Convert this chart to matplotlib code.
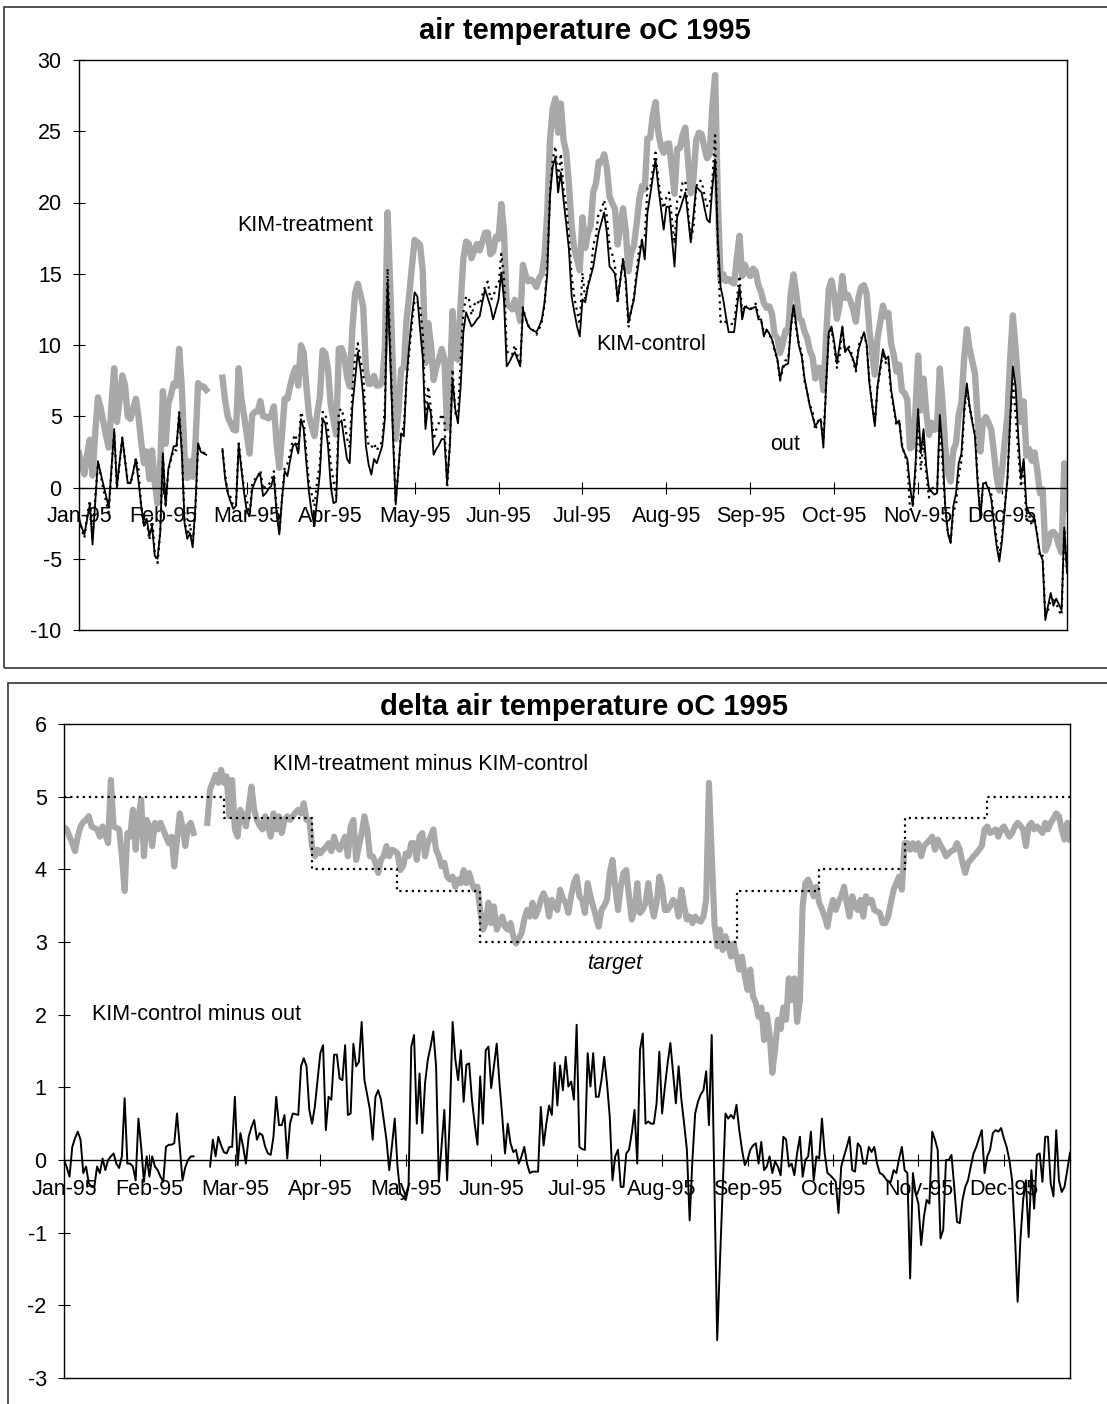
import numpy as np
import matplotlib
matplotlib.use("Agg")
import matplotlib.pyplot as plt
from matplotlib.patches import Rectangle

nan = np.nan

# x axis is the day index (one point per day, 1995)
month_labels = ["Jan-95", "Feb-95", "Mar-95", "Apr-95", "May-95", "Jun-95",
                "Jul-95", "Aug-95", "Sep-95", "Oct-95", "Nov-95", "Dec-95"]
month_days = [0, 31, 62, 93, 124, 155, 186, 217, 248, 279, 310, 341]

# outside air temperature (oC)
out_temp = [
    -2.2, -2.8, -3.3, -2.2, -1.2, -4.0, -1.0, 1.85, 1.0, 0.2,
    -0.6, -1.4, 1.4, 4.1, 0.0, 1.8, 3.5, 1.9, 0.3, 0.3,
    1.1, 2.0, 0.4, -1.3, -2.7, -2.2, -3.4, -2.7, -4.8, -5.0,
    -3.2, 2.4, -1.3, 1.3, 2.1, 2.9, 2.9, 5.1, 2.4, -2.5,
    -3.6, -3.2, -4.2, -1.3, 3.1, 2.5, 2.4, 2.3, nan, nan,
    nan, nan, nan, 2.7, 0.6, -0.4, -1.0, -1.5, -1.3, 3.0,
    1.3, -0.4, -1.7, -2.0, -0.1, 0.4, 0.8, 0.9, -0.6, -0.4,
    -0.1, 0.1, 0.8, -1.8, -3.3, -0.8, 1.15, 0.8, 1.9, 2.9,
    3.1, 2.4, 4.8, 4.1, 1.7, -0.4, -1.8, -2.7, -0.8, 1.0,
    4.8, 4.5, 2.9, 0.1, -1.1, -1.0, 4.5, 4.7, 3.3, 2.0,
    1.7, 5.7, 7.6, 9.5, 8.3, 6.4, 2.9, 1.6, 0.9, 2.0,
    1.7, 2.3, 2.9, 4.8, 14.4, 9.0, 3.5, -1.2, 1.3, 3.8,
    3.6, 7.6, 10.0, 12.0, 13.7, 13.4, 11.1, 9.1, 4.1, 5.9,
    5.2, 2.3, 2.7, 3.0, 3.4, 3.4, 0.3, 2.9, 7.6, 5.5,
    4.5, 7.1, 10.9, 12.3, 11.8, 11.3, 11.5, 11.8, 12.0, 13.0,
    13.9, 13.3, 12.7, 11.8, 12.5, 13.2, 15.1, 13.2, 8.5, 8.8,
    9.2, 9.5, 9.0, 8.5, 12.5, 11.9, 11.3, 11.1, 11.0, 10.9,
    11.3, 11.8, 13.0, 15.0, 20.5, 22.5, 23.2, 20.7, 22.1, 20.2,
    18.5, 16.7, 13.4, 12.3, 11.3, 10.6, 13.2, 13.0, 14.1, 14.8,
    15.5, 16.7, 17.9, 18.6, 19.3, 17.9, 15.5, 15.3, 15.0, 13.2,
    14.6, 16.0, 14.6, 11.6, 12.4, 13.2, 14.8, 16.1, 17.4, 16.0,
    19.3, 20.5, 21.8, 23.0, 21.1, 19.6, 18.1, 19.7, 19.7, 17.6,
    15.5, 19.0, 19.5, 20.1, 20.7, 19.0, 17.2, 19.1, 21.1, 20.9,
    20.7, 19.7, 18.8, 18.6, 21.1, 23.0, 17.4, 14.1, 13.2, 12.0,
    10.9, 10.9, 10.9, 12.5, 14.1, 11.8, 12.7, 12.6, 12.5, 12.6,
    12.7, 11.8, 11.8, 10.6, 11.1, 10.8, 10.4, 9.7, 9.0, 7.6,
    8.5, 8.6, 8.7, 11.3, 12.8, 11.3, 9.9, 9.2, 7.7, 6.7,
    5.7, 5.0, 4.3, 4.6, 4.8, 2.8, 7.1, 10.9, 11.3, 10.2,
    8.7, 10.0, 11.3, 9.5, 9.8, 9.4, 9.0, 8.3, 9.7, 10.3,
    10.9, 10.0, 7.3, 5.8, 4.3, 7.1, 8.4, 9.7, 9.0, 9.2,
    6.9, 5.7, 4.5, 4.7, 2.9, 2.4, 2.0, 0.1, -1.3, 1.5,
    5.5, 2.4, 4.1, 1.5, -0.1, -0.3, -0.5, -0.4, 5.1, 2.7,
    -1.3, -3.2, -3.9, -1.3, -0.4, 1.7, 2.4, 5.5, 7.3, 5.7,
    4.6, 3.6, 0.3, -2.2, 0.3, 0.3, -0.1, -0.8, -2.5, -4.1,
    -5.2, -3.7, -1.5, 0.6, 4.8, 8.5, 7.1, 3.6, 0.6, 2.0,
    -1.3, -1.8, -2.0, -2.2, -3.4, -4.6, -5.1, -9.3, -8.3, -7.4,
    -8.3, -7.8, -8.2, -8.6, -2.8, -6.0,
]

# KIM-control minus out (black line)
ctl_minus_out = [
    0.0, -0.1, -0.23, 0.18, 0.3, 0.39, 0.28, -0.18, -0.09, -0.32,
    -0.37, -0.37, -0.09, -0.18, 0.02, -0.14, 0.0, 0.05, 0.09, -0.05,
    -0.11, 0.05, 0.85, -0.05, -0.05, -0.09, -0.28, 0.57, 0.18, -0.3,
    0.05, -0.23, 0.05, -0.09, -0.14, -0.23, -0.3, 0.18, 0.21, 0.21,
    0.23, 0.64, 0.18, -0.28, -0.1, 0.0, 0.05, 0.05, nan, nan,
    nan, nan, nan, -0.09, 0.28, 0.05, 0.32, 0.2, 0.11, 0.09,
    0.18, 0.18, 0.87, -0.07, 0.37, 0.18, -0.05, 0.32, 0.45, 0.55,
    0.28, 0.37, 0.34, 0.18, 0.09, 0.07, 0.32, 0.87, 0.48, 0.48,
    0.62, 0.02, 0.5, 0.64, 0.63, 0.62, 1.29, 1.4, 1.29, 0.69,
    0.5, 0.73, 1.1, 1.47, 1.58, 0.41, 0.87, 0.83, 1.45, 1.45,
    1.12, 1.1, 1.58, 0.62, 0.64, 1.6, 1.29, 1.35, 1.9, 1.1,
    0.9, 0.69, 0.28, 0.87, 0.96, 0.83, 0.55, 0.28, -0.14, 0.2,
    0.57, -0.09, -0.46, -0.5, -0.55, -0.37, 1.56, 1.72, 0.5, 1.19,
    0.37, 1.06, 1.38, 1.56, 1.77, 1.29, -0.3, 0.2, 0.69, -0.28,
    0.6, 1.9, 1.38, 1.1, 1.51, 0.8, 1.31, 1.33, 0.83, 0.5,
    0.21, 1.15, 0.5, 1.51, 1.56, 0.99, 1.3, 1.6, 1.06, 0.6,
    0.09, 0.5, 0.23, 0.11, 0.14, -0.05, 0.05, 0.18, -0.05, -0.18,
    -0.16, -0.16, -0.16, 0.73, 0.2, 0.5, 0.75, 0.62, 1.34, 0.75,
    1.3, 0.96, 1.42, 1.01, 1.08, 0.83, 1.86, 0.18, 0.15, 0.14,
    1.47, 1.01, 1.47, 0.87, 0.87, 1.1, 1.42, 1.06, 0.6, -0.28,
    0.05, 0.14, -0.37, -0.37, 0.09, 0.14, 0.37, 0.69, -0.05, 1.52,
    1.74, 0.5, 0.53, 0.5, 0.5, 0.78, 1.49, 0.64, 1.0, 1.33,
    1.61, 1.2, 0.78, 1.29, 0.83, 0.5, 0.14, -0.83, 0.0, 0.64,
    0.8, 0.9, 0.96, 1.22, 0.48, 1.72, -0.38, -2.48, -1.4, -0.4,
    0.64, 0.57, 0.62, 0.57, 0.76, 0.41, 0.14, -0.07, 0.0, 0.14,
    0.2, 0.23, -0.05, 0.25, -0.14, -0.09, 0.05, -0.18, -0.02, -0.09,
    -0.21, 0.32, 0.28, -0.09, -0.05, -0.21, 0.1, 0.32, -0.23, 0.0,
    0.05, 0.39, -0.28, 0.05, 0.02, 0.57, 0.09, -0.18, -0.21, -0.25,
    -0.3, -0.73, -0.09, 0.05, 0.18, 0.32, -0.14, -0.16, 0.23, 0.18,
    -0.05, -0.05, 0.18, 0.11, 0.18, -0.05, -0.18, -0.2, -0.25, -0.3,
    -0.3, -0.14, -0.18, 0.02, 0.18, -0.14, -0.18, -1.63, -0.18, -0.46,
    -0.6, -1.17, -0.78, -0.55, -0.6, 0.39, 0.28, 0.14, -1.08, -0.96,
    0.0, 0.0, 0.07, -0.37, -0.85, -0.87, -0.55, -0.37, -0.28, -0.09,
    0.09, 0.18, 0.3, 0.41, -0.18, 0.05, 0.14, 0.37, 0.41, 0.39,
    0.44, 0.3, 0.18, 0.0, -0.28, -1.01, -1.95, -1.1, -0.55, -0.28,
    -1.06, -0.14, -0.67, 0.07, 0.09, -0.3, 0.32, 0.32, -0.32, -0.5,
    0.41, -0.28, -0.44, -0.37, -0.14, 0.1,
]

# KIM-treatment minus KIM-control (grey line)
trt_minus_ctl = [
    4.58, 4.55, 4.45, 4.36, 4.25, 4.45, 4.59, 4.65, 4.68, 4.73,
    4.59, 4.57, 4.55, 4.45, 4.59, 4.48, 4.36, 5.23, 4.59, 4.57,
    4.55, 4.18, 3.7, 4.5, 4.45, 4.82, 4.27, 4.73, 4.96, 4.18,
    4.68, 4.59, 4.32, 4.64, 4.55, 4.64, 4.55, 4.45, 4.36, 4.45,
    4.04, 4.41, 4.77, 4.59, 4.32, 4.59, 4.64, 4.5, nan, nan,
    nan, nan, 4.64, 5.1, 5.2, 5.3, 5.19, 5.37, 5.19, 5.28,
    4.73, 5.23, 4.55, 4.45, 4.82, 4.73, 4.59, 4.85, 5.14, 4.82,
    4.68, 4.6, 4.55, 4.73, 4.59, 4.45, 4.77, 4.55, 4.73, 4.5,
    4.68, 4.73, 4.68, 4.73, 4.78, 4.82, 4.77, 4.91, 4.68, 4.68,
    4.32, 4.18, 4.27, 4.22, 4.27, 4.3, 4.36, 4.25, 4.45, 4.32,
    4.27, 4.36, 4.45, 4.18, 4.59, 4.68, 4.13, 4.32, 4.5, 4.73,
    4.55, 4.18, 4.18, 4.09, 3.95, 4.13, 4.18, 4.32, 4.18, 4.27,
    4.25, 4.22, 3.99, 4.04, 4.22, 4.18, 4.36, 4.36, 4.13, 4.45,
    4.5, 4.18, 4.36, 4.45, 4.55, 4.27, 4.18, 4.04, 4.09, 3.9,
    3.86, 3.9, 3.76, 3.86, 3.81, 3.99, 3.81, 3.95, 3.81, 3.72,
    3.76, 3.44, 3.17, 3.26, 3.54, 3.26, 3.49, 3.17, 3.26, 3.35,
    3.21, 3.17, 3.26, 3.08, 2.98, 3.05, 3.12, 3.31, 3.44, 3.35,
    3.54, 3.35, 3.44, 3.58, 3.67, 3.58, 3.35, 3.58, 3.5, 3.44,
    3.72, 3.6, 3.54, 3.4, 3.63, 3.81, 3.9, 3.63, 3.58, 3.4,
    3.81, 3.63, 3.49, 3.35, 3.21, 3.44, 3.5, 3.58, 3.95, 4.13,
    3.76, 3.44, 3.76, 3.95, 3.99, 3.63, 3.31, 3.44, 3.81, 3.4,
    3.45, 3.54, 3.81, 3.54, 3.35, 3.54, 3.9, 3.76, 3.44, 3.44,
    3.5, 3.58, 3.54, 3.35, 3.72, 3.49, 3.31, 3.35, 3.26, 3.35,
    3.3, 3.28, 3.35, 3.58, 5.19, 4.22, 3.26, 2.94, 3.17, 2.89,
    3.08, 2.95, 2.8, 2.98, 2.8, 2.62, 2.8, 2.53, 2.34, 2.62,
    2.25, 2.16, 1.97, 2.1, 1.65, 2.0, 1.74, 1.2, 1.52, 1.93,
    1.8, 2.1, 1.93, 2.5, 2.2, 2.5, 1.9, 2.2, 3.5, 3.81,
    3.86, 3.76, 3.63, 3.76, 3.54, 3.45, 3.35, 3.21, 3.44, 3.58,
    3.44, 3.55, 3.63, 3.76, 3.54, 3.35, 3.63, 3.5, 3.44, 3.58,
    3.35, 3.63, 3.54, 3.58, 3.44, 3.42, 3.4, 3.26, 3.26, 3.35,
    3.54, 3.72, 3.81, 3.9, 3.72, 4.36, 4.36, 4.27, 4.36, 4.27,
    4.36, 4.18, 4.32, 4.36, 4.4, 4.45, 4.27, 4.41, 4.33, 4.27,
    4.18, 4.22, 4.25, 4.27, 4.36, 4.27, 4.09, 3.95, 4.09, 4.13,
    4.18, 4.22, 4.27, 4.32, 4.55, 4.59, 4.5, 4.52, 4.55, 4.45,
    4.55, 4.59, 4.52, 4.45, 4.5, 4.59, 4.64, 4.6, 4.55, 4.32,
    4.59, 4.64, 4.55, 4.59, 4.55, 4.5, 4.64, 4.55, 4.64, 4.7,
    4.77, 4.73, 4.55, 4.41, 4.64, 4.41,
]

# target difference (dotted step line), level from the given day on
target_from = [0, 58, 90, 121, 151, 244, 274, 305, 335]
target_level = [5.0, 4.7, 4.0, 3.7, 3.0, 3.7, 4.0, 4.7, 5.0]
LAST_DAY = 365

plt.rcParams["font.family"] = ["Liberation Sans", "DejaVu Sans"]
plt.rcParams["axes.unicode_minus"] = False

W, H = 1107, 1404
GREY = "#a8a8a8"

day = np.arange(len(out_temp))
out = np.array(out_temp, dtype=float)
d_co = np.array(ctl_minus_out, dtype=float)
d_tc = np.array(trt_minus_ctl, dtype=float)
control = out + d_co
treatment = control + d_tc


def px_axes(left, top, right, bottom):
    return [left / W, 1 - bottom / H, (right - left) / W, (bottom - top) / H]


def style(ax, ylim, yticks):
    ax.set_xlim(0, LAST_DAY)
    ax.set_ylim(*ylim)
    ax.set_yticks(yticks)
    ax.set_xticks(month_days)
    ax.set_xticklabels(month_labels)
    ax.spines["bottom"].set_position(("data", 0))
    for s in ax.spines.values():
        s.set_linewidth(1.0)
    # bottom edge of the plot box (the x axis itself sits at zero)
    ax.plot([0, 1], [0, 0], transform=ax.transAxes, color="black",
            lw=1.0, clip_on=False)
    ax.tick_params(axis="both", direction="inout", length=9, width=0.8,
                   labelsize=15.5)
    ax.tick_params(axis="x", pad=9)
    ax.tick_params(axis="y", pad=8)


fig = plt.figure(figsize=(W / 100, H / 100), dpi=100)

# panel frames
fig.patches.append(Rectangle((4 / W, 1 - 668 / H), 1.1, (668 - 7) / H,
                             transform=fig.transFigure, fill=False,
                             lw=1.2, ec="#333333"))
fig.patches.append(Rectangle((8 / W, -0.05), 1.1, 0.05 + (1404 - 683) / H,
                             transform=fig.transFigure, fill=False,
                             lw=1.2, ec="#333333"))

# ---- top: air temperature ----
ax1 = fig.add_axes(px_axes(79, 60, 1067, 630))
ax1.plot(day, treatment, color=GREY, lw=4.6, solid_joinstyle="round", zorder=2)
ax1.plot(day, control, color="black", lw=1.6, ls=(0, (1, 2)), zorder=3)
ax1.plot(day, out, color="black", lw=1.3, zorder=4)
style(ax1, (-10, 30), range(-10, 31, 5))
ax1.text(58.4, 18.4, "KIM-treatment", fontsize=15.5, ha="left", va="center")
ax1.text(191, 10.0, "KIM-control", fontsize=15.5, ha="left", va="center")
ax1.text(255.3, 3.0, "out", fontsize=15.5, ha="left", va="center")
fig.text(585 / W, 1 - 31 / H, "air temperature oC 1995", fontsize=21,
         fontweight="bold", ha="center", va="center")

# ---- bottom: delta air temperature ----
ax2 = fig.add_axes(px_axes(64, 724, 1070, 1378))
ax2.plot(day, d_tc, color=GREY, lw=4.4, solid_joinstyle="round", zorder=2)
ax2.step(target_from + [LAST_DAY], target_level + [target_level[-1]],
         where="post", color="black", lw=1.6, ls=(0, (1, 1.8)), zorder=3)
ax2.plot(day, d_co, color="black", lw=1.4, zorder=4)
style(ax2, (-3, 6), range(-3, 7))
ax2.text(75.8, 5.44, "KIM-treatment minus KIM-control", fontsize=15.5,
         ha="left", va="center")
ax2.text(189.8, 2.71, "target", fontsize=15.5, style="italic",
         ha="left", va="center")
ax2.text(10.2, 2.0, "KIM-control minus out", fontsize=15.5,
         ha="left", va="center")
fig.text(584 / W, 1 - 707 / H, "delta air temperature oC 1995", fontsize=21,
         fontweight="bold", ha="center", va="center")

fig.savefig("out.png", dpi=100)
